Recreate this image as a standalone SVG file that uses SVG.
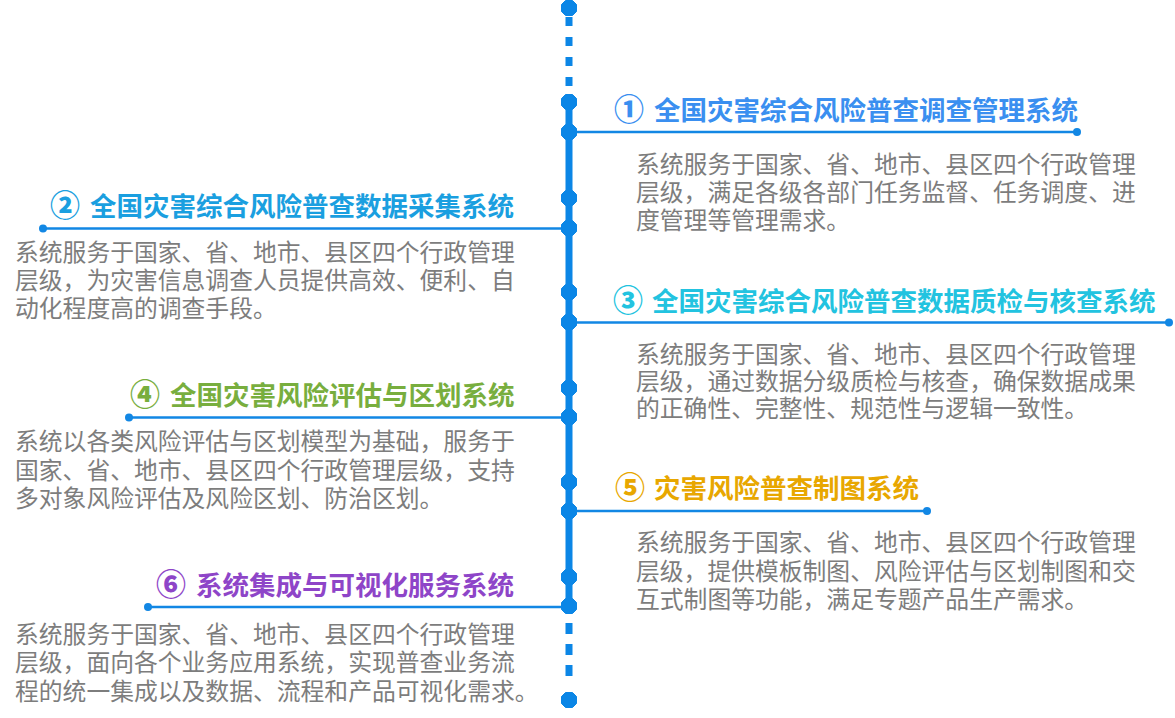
<svg xmlns="http://www.w3.org/2000/svg" xmlns:xlink="http://www.w3.org/1999/xlink" width="1175" height="718" viewBox="0 0 1175 718">
<style>
.t{font-family:"Noto Sans CJK SC","Noto Sans",sans-serif;font-weight:700;font-size:26.5px}
.n{font-size:30px;font-weight:900}
.d{font-family:"Noto Sans CJK SC","Noto Sans",sans-serif;font-weight:400;font-size:23.8px;fill:#7d7d7d}
.ln{stroke:#1287e4;stroke-width:2.4;fill:none}
.dot{fill:#1287e4}
.sp{stroke:#0b86e6;stroke-width:7;fill:none}
</style>
<defs>
<polygon id="oct" points="-3.5,-7.5 3.5,-7.5 7.5,-3.5 7.5,3.5 3.5,7.5 -3.5,7.5 -7.5,3.5 -7.5,-3.5" fill="#0b86e6" stroke="#0b86e6" stroke-width="1" stroke-linejoin="round"/>
</defs>
<g id="connectors">
<line class="sp" x1="569" y1="17" x2="569" y2="90" stroke-dasharray="9 11"/>
<line class="sp" x1="569" y1="102" x2="569" y2="606"/>
<line class="sp" x1="569" y1="623" x2="569" y2="680" stroke-dasharray="11 10"/>
<line class="ln" x1="569" y1="132" x2="1077" y2="132"/>
<circle class="dot" cx="1077" cy="132" r="4"/>
<line class="ln" x1="43" y1="228.5" x2="569" y2="228.5"/>
<circle class="dot" cx="43" cy="228.5" r="4"/>
<line class="ln" x1="569" y1="322.5" x2="1169" y2="322.5"/>
<circle class="dot" cx="1169" cy="322.5" r="4"/>
<line class="ln" x1="129" y1="417.5" x2="569" y2="417.5"/>
<circle class="dot" cx="129" cy="417.5" r="4"/>
<line class="ln" x1="569" y1="511" x2="927" y2="511"/>
<circle class="dot" cx="927" cy="511" r="4"/>
<line class="ln" x1="148" y1="607" x2="569" y2="607"/>
<circle class="dot" cx="148" cy="607" r="4"/>
</g>
<g id="spine-nodes">
<use xlink:href="#oct" x="569" y="8"/>
<use xlink:href="#oct" x="569" y="102"/>
<use xlink:href="#oct" x="569" y="132"/>
<use xlink:href="#oct" x="569" y="198"/>
<use xlink:href="#oct" x="569" y="228"/>
<use xlink:href="#oct" x="569" y="292"/>
<use xlink:href="#oct" x="569" y="322"/>
<use xlink:href="#oct" x="569" y="388"/>
<use xlink:href="#oct" x="569" y="417"/>
<use xlink:href="#oct" x="569" y="482"/>
<use xlink:href="#oct" x="569" y="511"/>
<use xlink:href="#oct" x="569" y="577"/>
<use xlink:href="#oct" x="569" y="606"/>
<use xlink:href="#oct" x="569" y="700"/>
</g>
<g id="node1">
<text class="t" y="120" fill="#3a8ff0"><tspan class="n" x="614">①</tspan><tspan x="654">全国灾害综合风险普查调查管理系统</tspan></text>
<text class="d"><tspan x="636" y="173">系统服务于国家、省、地市、县区四个行政管理</tspan><tspan x="636" y="201">层级，满足各级各部门任务监督、任务调度、进</tspan><tspan x="636" y="229">度管理等管理需求。</tspan></text>
</g>
<g id="node2">
<text class="t" y="216" fill="#1a9fe0"><tspan class="n" x="50">②</tspan><tspan x="90">全国灾害综合风险普查数据采集系统</tspan></text>
<text class="d"><tspan x="15" y="261">系统服务于国家、省、地市、县区四个行政管理</tspan><tspan x="15" y="289">层级，为灾害信息调查人员提供高效、便利、自</tspan><tspan x="15" y="317">动化程度高的调查手段。</tspan></text>
</g>
<g id="node3">
<text class="t" y="311" fill="#22c3e0"><tspan class="n" x="613">③</tspan><tspan x="652">全国灾害综合风险普查数据质检与核查系统</tspan></text>
<text class="d"><tspan x="636" y="363">系统服务于国家、省、地市、县区四个行政管理</tspan><tspan x="636" y="390">层级，通过数据分级质检与核查，确保数据成果</tspan><tspan x="636" y="417">的正确性、完整性、规范性与逻辑一致性。</tspan></text>
</g>
<g id="node4">
<text class="t" y="405" fill="#78ae3e"><tspan class="n" x="130">④</tspan><tspan x="170">全国灾害风险评估与区划系统</tspan></text>
<text class="d"><tspan x="15" y="450">系统以各类风险评估与区划模型为基础，服务于</tspan><tspan x="15" y="479">国家、省、地市、县区四个行政管理层级，支持</tspan><tspan x="15" y="507">多对象风险评估及风险区划、防治区划。</tspan></text>
</g>
<g id="node5">
<text class="t" y="498" fill="#e8a700"><tspan class="n" x="615">⑤</tspan><tspan x="654">灾害风险普查制图系统</tspan></text>
<text class="d"><tspan x="636" y="551">系统服务于国家、省、地市、县区四个行政管理</tspan><tspan x="636" y="580">层级，提供模板制图、风险评估与区划制图和交</tspan><tspan x="636" y="608">互式制图等功能，满足专题产品生产需求。</tspan></text>
</g>
<g id="node6">
<text class="t" y="595" fill="#8e45c8"><tspan class="n" x="156">⑥</tspan><tspan x="196">系统集成与可视化服务系统</tspan></text>
<text class="d"><tspan x="15" y="643">系统服务于国家、省、地市、县区四个行政管理</tspan><tspan x="15" y="671">层级，面向各个业务应用系统，实现普查业务流</tspan><tspan x="15" y="700">程的统一集成以及数据、流程和产品可视化需求。</tspan></text>
</g>
</svg>
